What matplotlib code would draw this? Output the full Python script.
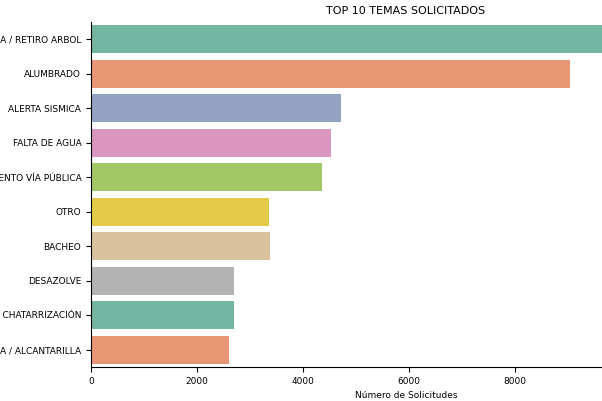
import matplotlib
matplotlib.use("Agg")
import matplotlib.pyplot as plt
import seaborn as sns

categories = ["PODA / RETIRO ARBOL", "ALUMBRADO", "ALERTA SISMICA", "FALTA DE AGUA",
              "MANTENIMIENTO VÍA PÚBLICA", "OTRO", "BACHEO", "DESAZOLVE",
              "ABANDONO / CHATARRIZACIÓN", "COLADERA / ALCANTARILLA"]
values = [11300, 9040, 4720, 4530, 4360, 3360, 3370, 2700, 2700, 2610]

fig = plt.figure(figsize=(6.02, 4.01), dpi=100)
ax = fig.add_axes([91/602, 1-367/401, 630/602, 345/401])
colors = [sns.desaturate(c, 0.75) for c in sns.color_palette("Set2", 8)]
cols = [colors[i % 8] for i in range(len(values))]
ax.barh(range(len(values)), values, height=0.8, color=cols)
ax.set_yticks(range(len(values)))
ax.set_yticklabels(categories, fontsize=6.5)
ax.set_ylim(len(values)-0.5, -0.5)
ax.set_xlim(0, 11890)
ax.set_xticks([0, 2000, 4000, 6000, 8000])
ax.tick_params(axis='x', labelsize=6.5)
ax.set_xlabel("Número de Solicitudes", fontsize=6.5)
ax.set_title("TOP 10 TEMAS SOLICITADOS", fontsize=8)
for s in ["top", "right"]:
    ax.spines[s].set_visible(False)
fig.savefig("out.png", dpi=100)
